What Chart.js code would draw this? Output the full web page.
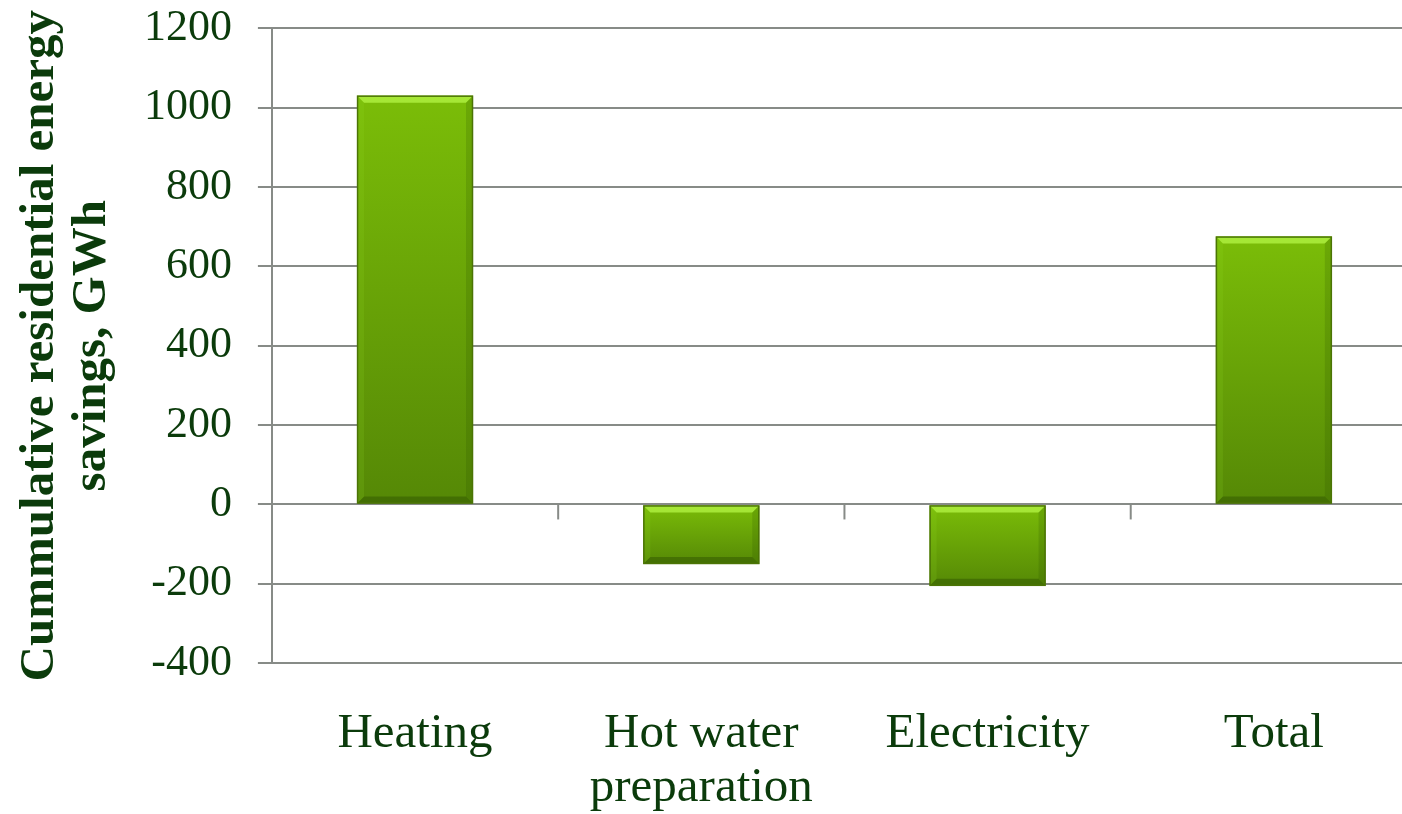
<!DOCTYPE html>
<html>
<head>
<meta charset="utf-8">
<script src="https://cdn.jsdelivr.net/npm/chart.js@4.4.1/dist/chart.umd.min.js"></script>
<style>
  html, body { margin: 0; padding: 0; background: #fff; overflow: hidden; }
  #wrap { width: 1420px; height: 814px; }
</style>
</head>
<body>
<div id="wrap"><canvas id="savingsChart"></canvas></div>
<script>
const CATEGORIES = ['Heating', ['Hot water', 'preparation'], 'Electricity', 'Total'];
const SAVINGS_GWH = [1030, -150, -205, 675];
const Y_MIN = -400;
const Y_MAX = 1200;
const Y_STEP = 200;
const Y_TITLE = ['Cummulative residential energy', 'savings, GWh'];

const TEXT = '#0b3b0b';
const GRID = '#878b87';
const SERIF = "'Liberation Serif', 'Times New Roman', serif";

// per-bar vertical shading, light on top and darker at the bottom
function barFill(ctx) {
    const chart = ctx.chart;
    const y = chart.scales.y;
    if (!chart.chartArea || !y) return '#6aa607';
    const a = y.getPixelForValue(ctx.raw);
    const b = y.getPixelForValue(0);
    const top = Math.min(a, b), bottom = Math.max(a, b);
    const g = chart.ctx.createLinearGradient(0, top, 0, bottom + 1);
    g.addColorStop(0, '#7bbd08');
    g.addColorStop(1, '#558806');
    return g;
}

// small tick marks hanging under the zero line, between categories
const zeroTicks = {
    id: 'zeroTicks',
    beforeDatasetsDraw(chart) {
        const x = chart.scales.x, y = chart.scales.y;
        const y0 = y.getPixelForValue(0);
        const c = chart.ctx;
        c.save();
        c.strokeStyle = GRID;
        c.lineWidth = 2;
        for (let i = 0; i < CATEGORIES.length - 1; i++) {
            const px = (x.getPixelForValue(i) + x.getPixelForValue(i + 1)) / 2;
            c.beginPath();
            c.moveTo(px, y0);
            c.lineTo(px, y0 + 15);
            c.stroke();
        }
        c.restore();
    }
};

const bevel = {
    id: 'bevel',
    afterDatasetsDraw(chart) {
        const c = chart.ctx;
        chart.getDatasetMeta(0).data.forEach(bar => {
            const { x, y, base, width } = bar.getProps(['x', 'y', 'base', 'width'], true);
            const l = x - width / 2, r = x + width / 2;
            const t = Math.min(y, base), btm = Math.max(y, base);
            const s = Math.min(7, (btm - t) / 3);
            const poly = (pts, fill) => {
                c.beginPath();
                c.moveTo(pts[0][0], pts[0][1]);
                pts.slice(1).forEach(p => c.lineTo(p[0], p[1]));
                c.closePath();
                c.fillStyle = fill;
                c.fill();
            };
            c.save();
            poly([[l, t], [r, t], [r - s, t + s], [l + s, t + s]], 'rgba(180,245,70,0.75)');
            poly([[l, btm], [r, btm], [r - s, btm - s], [l + s, btm - s]], 'rgba(45,80,0,0.45)');
            poly([[r, t], [r, btm], [r - s, btm - s], [r - s, t + s]], 'rgba(40,75,0,0.18)');
            poly([[l, t], [l, btm], [l + s, btm - s], [l + s, t + s]], 'rgba(150,220,40,0.15)');
            c.strokeStyle = '#4b7405';
            c.lineWidth = 1.5;
            c.strokeRect(l + 0.5, t + 0.5, width - 1, btm - t - 1);
            c.restore();
        });
    }
};

new Chart(document.getElementById('savingsChart'), {
    type: 'bar',
    data: {
        labels: CATEGORIES,
        datasets: [{
            data: SAVINGS_GWH,
            backgroundColor: barFill,
            borderWidth: 0,
            barPercentage: 0.405,
            categoryPercentage: 1.0
        }]
    },
    options: {
        responsive: true,
        maintainAspectRatio: false,
        animation: false,
        layout: { padding: { left: 15, right: 3, top: 0, bottom: -45 } },
        plugins: { legend: { display: false }, tooltip: { enabled: false } },
        scales: {
            x: {
                grid: { display: false, drawTicks: false },
                border: { display: false },
                ticks: {
                    color: TEXT,
                    padding: 44,
                    maxRotation: 0,
                    autoSkip: false,
                    font: { family: SERIF, size: 49, lineHeight: 1.1 }
                }
            },
            y: {
                min: Y_MIN,
                max: Y_MAX,
                ticks: {
                    stepSize: Y_STEP,
                    color: TEXT,
                    padding: 26,
                    font: { family: SERIF, size: 44, lineHeight: 0.1 },
                    callback: v => String(v)
                },
                grid: { color: GRID, lineWidth: 2, tickLength: 14 },
                border: { display: true, color: GRID, width: 2 },
                title: {
                    display: true,
                    text: Y_TITLE,
                    color: TEXT,
                    padding: { top: 0, bottom: 0 },
                    font: { family: SERIF, size: 49, weight: 'bold', lineHeight: 1.05 }
                }
            }
        }
    },
    plugins: [zeroTicks, bevel]
});
</script>
</body>
</html>
